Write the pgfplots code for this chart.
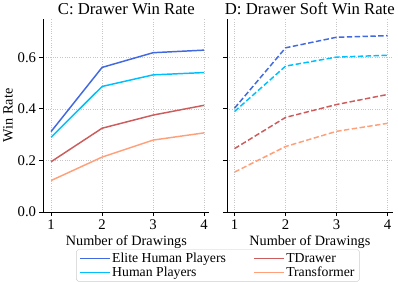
\documentclass[border=0pt]{standalone}
\usepackage{pgfplots}
\pgfplotsset{compat=1.18}
\usepackage{fontspec}
\setmainfont{Liberation Serif}
\definecolor{elite}{RGB}{65,105,225}
\definecolor{human}{RGB}{0,191,255}
\definecolor{tdraw}{RGB}{205,92,92}
\definecolor{trans}{RGB}{255,160,122}
\pgfplotsset{
  myax/.style={
    scale only axis, width=169bp, height=197bp,
    xmin=0.85, xmax=4.1, ymin=0, ymax=0.75,
    axis x line*=bottom, axis y line*=left,
    axis line style={line width=0.8bp},
    tick align=outside, tick style={black, line width=0.8bp},
    major tick length=4bp,
    xtick={1,2,3,4}, ytick={0,0.2,0.4,0.6},
    grid=major, grid style={dotted, line width=0.6bp, gray!45},
    tick label style={font=\fontsize{15bp}{17bp}\selectfont},
    label style={font=\fontsize{14.5bp}{16bp}\selectfont},
    title style={font=\fontsize{17bp}{19bp}\selectfont, yshift=-6bp},
    /pgf/number format/assume math mode=true,
    yticklabel style={/pgf/number format/fixed, /pgf/number format/fixed zerofill, /pgf/number format/precision=1},
    every axis plot/.append style={line width=1.5bp},
  }
}
\begin{document}
\begin{tikzpicture}
\begin{axis}[myax,
  title={C: Drawer Win Rate},
  xlabel={Number of Drawings}, ylabel={Win Rate},
  ylabel style={yshift=-2bp},
  legend columns=2, transpose legend,
  legend image code/.code={\draw[#1] (0bp,0bp) -- (30bp,0bp);},
  legend style={at={(1.052,-0.193)}, anchor=north, draw=gray!40, rounded corners=2bp,
    font=\fontsize{14bp}{14bp}\selectfont,
    /tikz/every even column/.append style={column sep=26bp},
    /tikz/every odd column/.append style={column sep=0bp},
    inner ysep=1.5bp, inner xsep=3bp, row sep=-1bp},
  legend cell align=left,
]
\addplot[elite] coordinates {(1,0.312) (2,0.561) (3,0.618) (4,0.628)};
\addlegendentry{Elite Human Players}
\addplot[human] coordinates {(1,0.290) (2,0.487) (3,0.532) (4,0.541)};
\addlegendentry{Human Players}
\addplot[tdraw] coordinates {(1,0.195) (2,0.325) (3,0.376) (4,0.414)};
\addlegendentry{TDrawer}
\addplot[trans] coordinates {(1,0.122) (2,0.213) (3,0.279) (4,0.307)};
\addlegendentry{Transformer}
\end{axis}
\begin{axis}[myax, xshift=187bp,
  title={D: Drawer Soft Win Rate},
  xlabel={Number of Drawings},
  yticklabels={},
  every axis plot/.append style={dash pattern=on 5.5bp off 2.5bp},
]
\addplot[elite] coordinates {(1,0.403) (2,0.637) (3,0.678) (4,0.684)};
\addplot[human] coordinates {(1,0.390) (2,0.566) (3,0.601) (4,0.608)};
\addplot[tdraw] coordinates {(1,0.246) (2,0.367) (3,0.417) (4,0.456)};
\addplot[trans] coordinates {(1,0.155) (2,0.254) (3,0.313) (4,0.344)};
\end{axis}
\end{tikzpicture}
\end{document}
